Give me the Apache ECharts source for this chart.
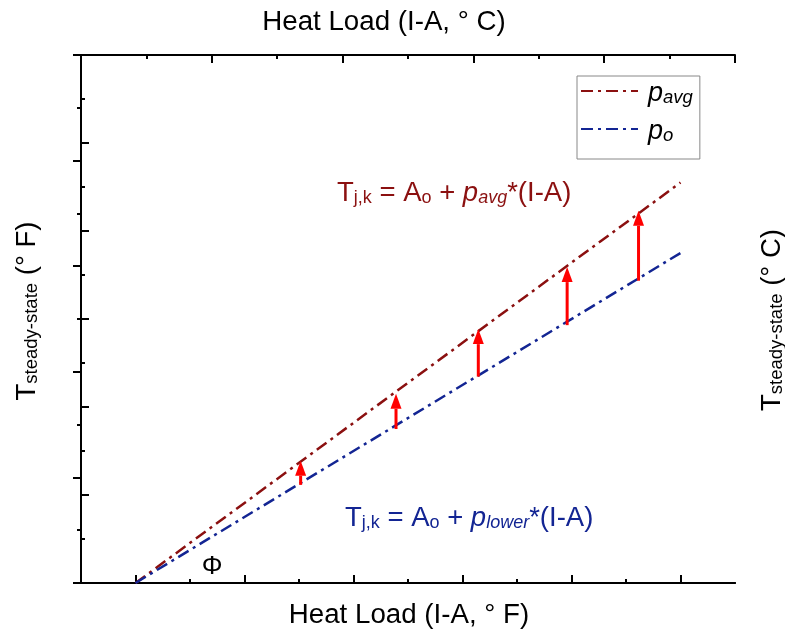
<!DOCTYPE html>
<html>
<head>
<meta charset="utf-8">
<script src="https://cdn.jsdelivr.net/npm/echarts@6/dist/echarts.min.js"></script>
<style>
  html, body { margin: 0; padding: 0; background: #fff; }
  #chart { width: 785px; height: 632px; }
</style>
</head>
<body>
<div id="chart"></div>
<script>
// line endpoints, bottom axis (deg F) vs left axis (deg F)
const avgX = [1.0, 11.0];
const avgY = [0, 9.1];
const lowX = [1.0, 11.0];
const lowY = [0, 7.5];
// red arrows: x, lower end, upper end
const arrowX = [4.03, 5.78, 7.29, 8.92, 10.23];
const arrowLow = [2.23, 3.5, 4.69, 5.86, 6.87];
const arrowHigh = [2.78, 4.3, 5.77, 7.18, 8.46];
// tick positions on the bottom axis
const bottomMajor = [1, 3, 5, 7, 9, 11];
const bottomMinor = [2, 4, 6, 8, 10];

const FONT = "'Liberation Sans', Arial, sans-serif";
const RED = "#8b1010";
const BLUE = "#132593";
const MAJOR = -8; // negative -> ticks point into the plot
const MINOR = -4;

const chart = echarts.init(document.getElementById("chart"));

function zipPts(xs, ys) {
  return xs.map((x, i) => [x, ys[i]]);
}

const axisLine = { show: true, lineStyle: { color: "#000", width: 2 } };
const tickLine = { color: "#000", width: 2 };

function eqRich(color) {
  return {
    b: { fontSize: 27.5, fontFamily: FONT, fill: color, lineHeight: 34, verticalAlign: "bottom" },
    i: { fontSize: 27.5, fontFamily: FONT, fontStyle: "italic", fill: color, lineHeight: 34, verticalAlign: "bottom" },
    s: { fontSize: 18, fontFamily: FONT, fill: color, lineHeight: 14, verticalAlign: "bottom" },
    is: { fontSize: 18, fontFamily: FONT, fontStyle: "italic", fill: color, lineHeight: 14, verticalAlign: "bottom" },
  };
}

const sideRich = {
  b: { fontSize: 27.5, fontFamily: FONT, fill: "#000", lineHeight: 34, verticalAlign: "bottom" },
  s: { fontSize: 18.5, fontFamily: FONT, fill: "#000", lineHeight: 14, verticalAlign: "bottom" },
};

const option = {
  animation: false,
  grid: { left: 81, top: 55, right: 50, bottom: 49 },
  legend: {
    orient: "vertical",
    left: 577,
    top: 76,
    padding: [4, 7, 14, 3],
    itemGap: 11,
    itemWidth: 57,
    itemHeight: 14,
    borderColor: "#888",
    borderWidth: 1,
    borderRadius: 0,
    itemStyle: { opacity: 0 },
    data: ["pavg", "po"],
    formatter: (name) => (name === "pavg" ? "{p|p}{s|avg}" : "{p|p}{s|o}"),
    textStyle: {
      padding: [0, 0, 0, 5],
      rich: {
        p: { fontSize: 27, fontStyle: "italic", fontFamily: FONT, color: "#000", lineHeight: 32, verticalAlign: "bottom" },
        s: { fontSize: 18.5, fontStyle: "italic", fontFamily: FONT, color: "#000", lineHeight: 14, verticalAlign: "bottom" },
      },
    },
  },
  xAxis: [
    {
      type: "value", position: "bottom", min: 0, max: 12,
      axisLine: axisLine,
      axisTick: { length: MAJOR, customValues: bottomMajor, lineStyle: tickLine },
      axisLabel: { show: false }, splitLine: { show: false },
    },
    {
      type: "value", position: "bottom", min: 0, max: 12,
      axisLine: axisLine,
      axisTick: { length: MINOR, customValues: bottomMinor, lineStyle: tickLine },
      axisLabel: { show: false }, splitLine: { show: false },
    },
    {
      type: "value", position: "top", min: 0, max: 10, interval: 2,
      axisLine: axisLine,
      axisTick: { length: MAJOR, lineStyle: tickLine },
      minorTick: { show: true, splitNumber: 2, length: MINOR, lineStyle: tickLine },
      axisLabel: { show: false }, splitLine: { show: false }, minorSplitLine: { show: false },
    },
  ],
  yAxis: [
    {
      type: "value", position: "left", min: 0, max: 12, interval: 2,
      axisLine: axisLine,
      axisTick: { length: MAJOR, lineStyle: tickLine },
      minorTick: { show: true, splitNumber: 2, length: MINOR, lineStyle: tickLine },
      axisLabel: { show: false }, splitLine: { show: false },
    },
    {
      type: "value", position: "right", min: 0, max: 10, interval: 2,
      axisLine: axisLine,
      axisTick: { length: MAJOR, lineStyle: tickLine },
      minorTick: { show: true, splitNumber: 2, length: MINOR, lineStyle: tickLine },
      axisLabel: { show: false }, splitLine: { show: false },
    },
  ],
  series: [
    {
      name: "pavg", type: "line", xAxisIndex: 0, yAxisIndex: 0,
      data: zipPts(avgX, avgY), symbol: "none",
      lineStyle: { color: RED, width: 2.5, type: [12, 5, 3, 5] },
      itemStyle: { color: RED },
      z: 3,
    },
    {
      name: "po", type: "line", xAxisIndex: 0, yAxisIndex: 0,
      data: zipPts(lowX, lowY), symbol: "none",
      lineStyle: { color: BLUE, width: 2.5, type: [12, 5, 3, 5] },
      itemStyle: { color: BLUE },
      z: 3,
    },
    {
      // 红色箭头
      type: "custom", xAxisIndex: 0, yAxisIndex: 0,
      data: arrowX.map((x, i) => [x, arrowLow[i], arrowHigh[i]]),
      encode: { x: 0, y: [1, 2] },
      z: 4,
      renderItem: function (params, api) {
        const p0 = api.coord([api.value(0), api.value(1)]);
        const p1 = api.coord([api.value(0), api.value(2)]);
        const headLen = 15, headW = 5.5;
        return {
          type: "group",
          children: [
            {
              type: "line",
              shape: { x1: p0[0], y1: p0[1], x2: p1[0], y2: p1[1] + headLen },
              style: { stroke: "#ff0000", lineWidth: 3 },
            },
            {
              type: "polygon",
              shape: { points: [[p1[0], p1[1]], [p1[0] - headW, p1[1] + headLen], [p1[0] + headW, p1[1] + headLen]] },
              style: { fill: "#ff0000" },
            },
          ],
        };
      },
    },
  ],
  graphic: [
    {
      type: "text", x: 384, y: 22,
      style: { text: "Heat Load (I-A, ° C)", font: "27.7px " + FONT, fill: "#000", align: "center", verticalAlign: "middle" },
    },
    {
      type: "text", x: 409, y: 615,
      style: { text: "Heat Load (I-A, ° F)", font: "27.7px " + FONT, fill: "#000", align: "center", verticalAlign: "middle" },
    },
    {
      type: "text", x: 24, y: 311, rotation: Math.PI / 2,
      style: { text: "{b|T}{s|steady-state}{b| (° F)}", align: "center", verticalAlign: "middle", rich: sideRich },
    },
    {
      type: "text", x: 769, y: 320, rotation: Math.PI / 2,
      style: { text: "{b|T}{s|steady-state}{b| (° C)}", align: "center", verticalAlign: "middle", rich: sideRich },
    },
    {
      type: "text", x: 337, y: 190,
      style: {
        text: "{b|T}{s|j,k}{b| = A}{s|o}{b| + }{i|p}{is|avg}{b|*(I-A)}",
        align: "left", verticalAlign: "middle", rich: eqRich(RED),
      },
    },
    {
      type: "text", x: 345, y: 515,
      style: {
        text: "{b|T}{s|j,k}{b| = A}{s|o}{b| + }{i|p}{is|lower}{b|*(I-A)}",
        align: "left", verticalAlign: "middle", rich: eqRich(BLUE),
      },
    },
    {
      type: "text", x: 212, y: 567,
      style: { text: "Φ", font: "26px " + FONT, fill: "#000", align: "center", verticalAlign: "middle" },
    },
  ],
};

chart.setOption(option);
</script>
</body>
</html>
